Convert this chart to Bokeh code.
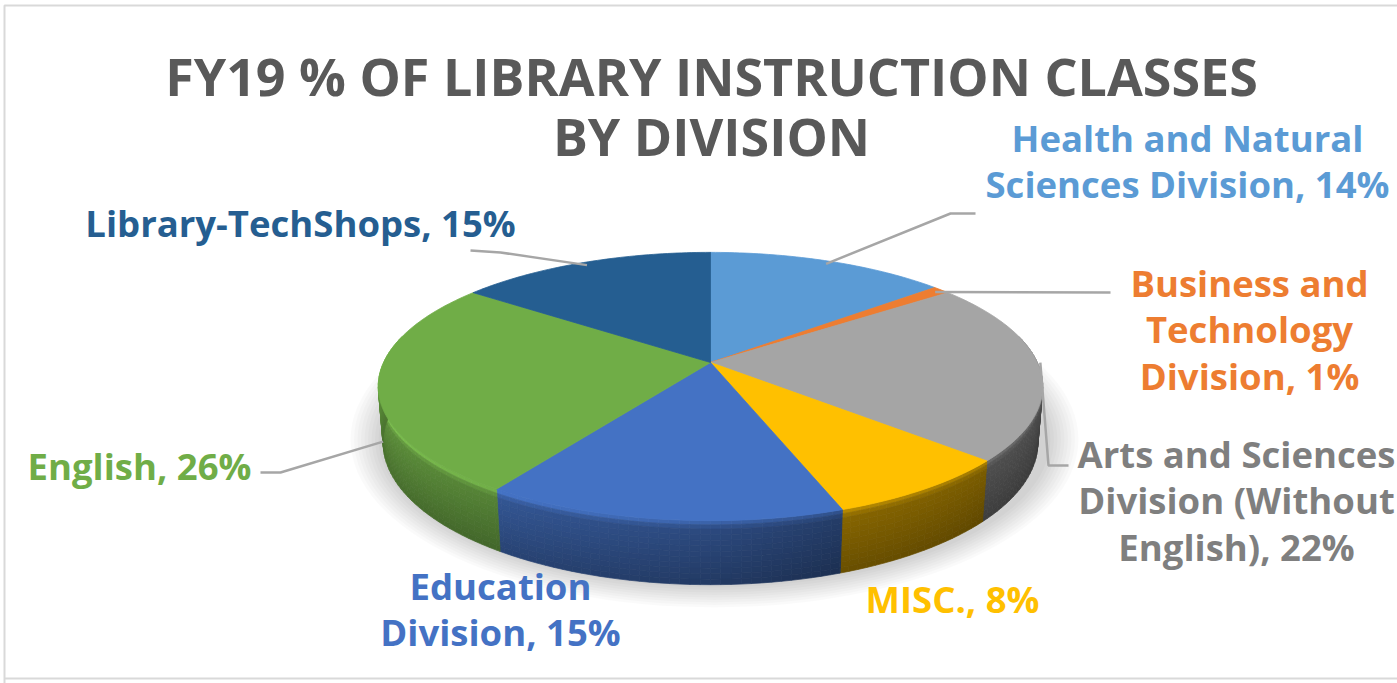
import math
from bokeh.plotting import figure
from bokeh.models import Range1d
from bokeh.core.properties import value
from bokeh.embed import file_html
from bokeh.resources import INLINE

# ---------------- data ----------------
categories = ["Health and Natural Sciences Division", "Business and Technology Division",
              "Arts and Sciences Division (Without English)", "MISC.", "Education Division",
              "English", "Library-TechShops"]
values = [14, 1, 22, 8, 15, 26, 15]
colors = ["#5B9BD5", "#ED7D31", "#A5A5A5", "#FFC000", "#4472C4", "#70AD47", "#255E91"]
label_lines = [
    ["Health and Natural", "Sciences Division, 14%"],
    ["Business and", "Technology", "Division, 1%"],
    ["Arts and Sciences", "Division (Without", "English), 22%"],
    ["MISC., 8%"],
    ["Education", "Division, 15%"],
    ["English, 26%"],
    ["Library-TechShops, 15%"],
]
title_lines = ["FY19 % OF LIBRARY INSTRUCTION CLASSES", "BY DIVISION"]

# ---------------- layout ----------------
W, H = 1397, 683
FONT = "Open Sans"
# simple perspective camera for the 3-D pie (unit radius)
CX, CY = 710.0, 362.0          # screen position of the pie centre (top face)
ALPHA = math.radians(23.4)     # camera elevation
DIST = 5.13                    # camera distance (in radii)
K = 1677.0                     # focal scale (pixels)
T = 0.186                      # pie thickness (in radii)
S, C = math.sin(ALPHA), math.cos(ALPHA)

p = figure(width=W, height=H, x_range=Range1d(0, W), y_range=Range1d(H, 0),
           output_backend="svg", toolbar_location=None, min_border=0)
p.axis.visible = False
p.grid.visible = False
p.outline_line_color = None
p.background_fill_color = "white"

# chart border
p.line([4, 4, W + 5], [H + 5, 5, 5], line_color="#D9D9D9", line_width=2)
p.line([4, W + 5], [678, 678], line_color="#D9D9D9", line_width=2)


def proj(X, Y, Z):
    d = DIST - Y * C - Z * S
    return CX + K * X / d, CY + K * (Y * S - Z * C) / d


def rim(theta_deg, z=0.0, r=1.0):
    t = math.radians(theta_deg)
    return proj(r * math.sin(t), -r * math.cos(t), z)


def hex2rgb(h):
    h = h.lstrip("#")
    return tuple(int(h[i:i + 2], 16) for i in (0, 2, 4))


def shade(h, f):
    r, g, b = hex2rgb(h)
    return "#%02x%02x%02x" % tuple(max(0, min(255, int(round(c * f)))) for c in (r, g, b))


total = sum(values)
bounds = [0.0]
for v in values:
    bounds.append(bounds[-1] + v / total * 360.0)


def slice_at(t):
    for i in range(len(values)):
        if bounds[i] <= t < bounds[i + 1]:
            return i
    return len(values) - 1


# soft shadow under the pie
sx, sy = proj(0.0, 0.12, -T)
for i in range(9):
    p.ellipse(x=sx + 4, y=sy + 5, width=2 * 336 + i * 7, height=2 * 148 + i * 5,
              fill_color="#000000", fill_alpha=0.018, line_color=None)

# side faces, shaded cell by cell (angular lighting x vertical gradient)
light_t = [78, 90, 130, 160, 180, 215, 270, 282]
light_f = [0.44, 0.44, 0.47, 0.52, 0.64, 0.75, 0.86, 0.86]


def light(t):
    for j in range(len(light_t) - 1):
        if light_t[j] <= t <= light_t[j + 1]:
            u = (t - light_t[j]) / (light_t[j + 1] - light_t[j])
            return light_f[j] + u * (light_f[j + 1] - light_f[j])
    return light_f[0] if t < light_t[0] else light_f[-1]


zb = [0.0, -0.012, -0.024] + [-0.024 - (T - 0.024) * k / 10 for k in range(1, 11)]
vf = [1.35, 1.12] + [1.0 - 0.2 * k / 9 for k in range(10)]

SIDE0, SIDE1, STEP = 78.0, 282.0, 1.5
cell_xs, cell_ys, cell_c = [], [], []
t = SIDE0
while t < SIDE1 - 1e-6:
    t1 = min(t + STEP, SIDE1)
    cuts = [t] + [b for b in bounds if t < b < t1] + [t1]
    for a0, a1 in zip(cuts[:-1], cuts[1:]):
        mid = (a0 + a1) / 2
        base = colors[slice_at(mid)]
        lf = light(mid)
        for k in range(len(zb) - 1):
            z0, z1 = zb[k], zb[k + 1]
            p0 = rim(a0, z0); p1 = rim(a1, z0); p2 = rim(a1, z1); p3 = rim(a0, z1)
            cell_xs.append([p0[0], p1[0], p2[0], p3[0]])
            cell_ys.append([p0[1], p1[1], p2[1], p3[1]])
            cell_c.append(shade(base, min(1.1, lf * vf[k])))
    t = t1
p.patches(cell_xs, cell_ys, fill_color=cell_c, line_color=cell_c, line_width=0.7)

# top face slices
top_xs, top_ys = [], []
for i in range(len(values)):
    s, e = bounds[i], bounds[i + 1]
    n = max(2, int((e - s) / 1.0) + 1)
    pts = [(CX, CY)] + [rim(s + (e - s) * j / n) for j in range(n + 1)]
    top_xs.append([q[0] for q in pts])
    top_ys.append([q[1] for q in pts])
p.patches(top_xs, top_ys, fill_color=colors, line_color=colors, line_width=0.8)

# leader lines: anchor (mid-angle of the slice, at height z) then elbow points
leader_z = [0.0, 0.0, 0.02, None, None, -T, 0.0]
leader_pts = [
    [(950, 213), (975, 213)],
    [(1110, 292)],
    [(1048, 465), (1068, 465)],
    None,
    None,
    [(280, 472), (260, 472)],
    [(500, 252), (470, 250)],
]
for i in range(len(values)):
    if leader_pts[i] is None:
        continue
    midang = (bounds[i] + bounds[i + 1]) / 2
    ax, ay = rim(midang, leader_z[i], 0.97 if leader_z[i] == 0.0 else 1.0)
    xs = [ax] + [q[0] for q in leader_pts[i]]
    ys = [ay] + [q[1] for q in leader_pts[i]]
    p.line(xs, ys, line_color="#A6A6A6", line_width=2.5)

# labels
label_pos = [(1187, 137), (1249, 282), (1236, 453), (952, 598), (500, 585), (139, 465), (300, 222)]
LINE_H = 46.5
label_colors = ["#5B9BD5", "#ED7D31", "#7F7F7F", "#FFC000", "#4472C4", "#70AD47", "#255E91"]
for i, lines in enumerate(label_lines):
    x0, y0 = label_pos[i]
    p.text(x=[x0] * len(lines), y=[y0 + LINE_H * k for k in range(len(lines))], text=lines,
           text_align="center", text_baseline="middle", text_font=value(FONT),
           text_font_style="bold", text_font_size="36.5px", text_color=label_colors[i])

# title
p.text(x=[711, 711], y=[75, 135], text=title_lines, text_align="center", text_baseline="middle",
       text_font=value(FONT), text_font_style="bold", text_font_size="52px", text_color="#595959")

open("out.html", "w").write(file_html(p, INLINE))
